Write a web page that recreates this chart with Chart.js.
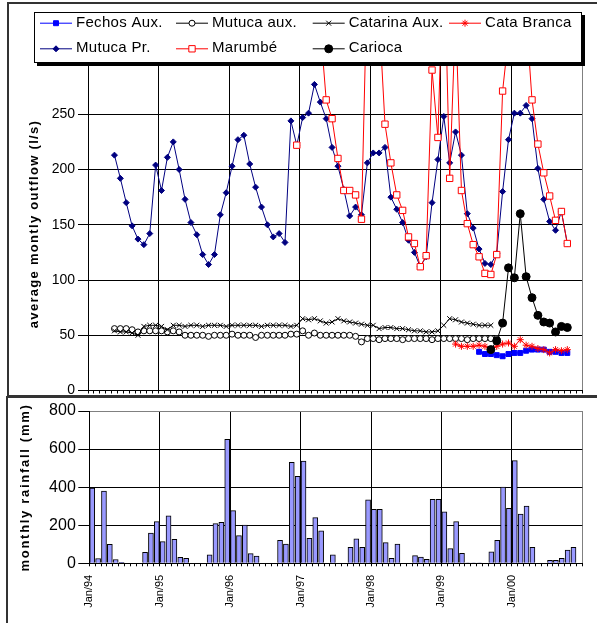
<!DOCTYPE html>
<html>
<head>
<meta charset="utf-8">
<script src="https://cdn.jsdelivr.net/npm/chart.js@4.4.1/dist/chart.umd.min.js"></script>
<style>
  html, body { margin: 0; padding: 0; background: #fff; }
  body { width: 597px; height: 623px; position: relative; overflow: hidden; }
  .frame { position: absolute; border: 2px solid #333; box-sizing: border-box; }
  #topFrame { left: 7px; top: 2px; width: 620px; height: 395px; }
  #bottomFrame { left: 6px; top: 396px; width: 620px; height: 260px; }
  canvas { position: absolute; }
  #outflow { left: 8px; top: 3px; }
  #rain { left: 8px; top: 398px; }
</style>
</head>
<body>
<div class="frame" id="topFrame"></div>
<div class="frame" id="bottomFrame"></div>
<canvas id="outflow" width="589" height="394"></canvas>
<canvas id="rain" width="589" height="225"></canvas>
<script>
const MONTHS = 84; // Jan/94 .. Dec/00
const yearLabels = ['Jan/94', 'Jan/95', 'Jan/96', 'Jan/97', 'Jan/98', 'Jan/99', 'Jan/00'];

// average monthly outflow (l/s); each series starts at a month index (0 = Jan/94)
const fechosStart = 66;
const fechosAux = [35, 33, 33, 32, 31, 33, 34, 34, 36, 37, 37, 37, 35, 35, 34, 34];

const mutucaAuxStart = 4;
const mutucaAux = [56, 56, 56, 55, 53, 54, 54, 54, 54, 53, 54, 53,
  50, 50, 50, 50, 49, 50, 50, 50, 51, 50, 50, 50, 48, 50, 50, 50, 50, 50, 51, 51,
  54, 50, 52, 50, 50, 50, 50, 50, 50, 49, 44,
  47, 47, 46, 47, 47, 47, 46, 47, 47, 47, 47, 46, 47, 47, 47, 47, 47, 46, 47, 47, 47, 47, 47];

const catarinaStart = 4;
const catarinaAux = [54, 53, 53, 52, 50, 58, 59, 59, 58, 55, 59,
  59, 58, 59, 59, 58, 59, 59, 59, 58, 59, 59, 59, 59, 59, 58, 59, 59, 59, 59, 58, 59,
  65, 64, 65, 63, 61, 62, 65, 63, 62, 61, 60, 59, 59,
  56, 57, 57, 56, 56, 55, 54, 54, 53, 53, 54,
  59, 65, 64, 62, 61, 60, 59, 59, 59];

const cataBrancaStart = 62;
const cataBranca = [42, 40, 40, 40, 41, 40, 37, 40, 42, 43, 40, 46, 41, 40, 38, 37, 34, 37, 36, 37];

const mutucaPrStart = 4;
const mutucaPr = [213, 192, 170, 149, 137, 132, 142, 204, 181, 211,
  225, 200, 173, 152, 141, 123, 114, 123, 159, 179,
  203, 227, 231, 205, 184, 166, 150, 139, 142, 134,
  244, 222, 247, 251, 277, 261, 246, 220, 203, 182,
  158, 166, 159, 206, 215, 215, 220, 175, 164, 152,
  136, 125, 112, 121, 170, 209, 248, 206, 234, 213,
  160, 147, 128, 115, 114, 124, 180, 227, 251, 251,
  258, 246, 201, 173, 153, 145, 162, 133];

const marumbeStart = 35;
const marumbe = [222, null, null, null, 330, 263, 246, 210, 181, 181,
  177, 155, 380, 400, 340, 241, 206, 177, 163, 139,
  133, 112, 122, 290, 229, 410, 192, 340, 181, 151,
  132, 121, 106, 105, 123, 271, 320, 400, 380, 340,
  263, 223, 197, 176, 154, 162, 133];

const cariocaStart = 68;
const carioca = [37, 45, 61, 111, 102, 160, 103, 84, 68, 62, 61, 53, 58, 57];

// monthly rainfall (mm), Jan/94 .. Dec/00
const rainfall = [395, 25, 380, 100, 20, 5, 0, 0, 0, 58, 159, 219,
  114, 250, 126, 32, 26, 0, 0, 0, 45, 208, 215, 651,
  277, 145, 201, 51, 38, 0, 0, 0, 121, 101, 530, 457,
  537, 131, 240, 170, 0, 45, 0, 0, 84, 128, 84, 333,
  284, 284, 109, 26, 101, 0, 0, 40, 33, 21, 336, 336,
  271, 77, 219, 52, 3, 3, 3, 0, 60, 121, 401, 289,
  539, 259, 301, 84, 0, 0, 16, 16, 26, 70, 84, 0];

function monthly(start, values) {
  const out = new Array(MONTHS).fill(null);
  values.forEach((v, i) => { out[start + i] = v; });
  return out;
}
const xy = arr => arr.map((v, i) => ({ x: i + 0.5, y: v }));

const FONT = '"Liberation Sans", Arial, sans-serif';

const sideTitle = {
  id: 'sideTitle',
  afterDraw(chart, args, o) {
    const ctx = chart.ctx;
    ctx.save();
    ctx.translate(o.x, o.y);
    ctx.rotate(-Math.PI / 2);
    ctx.font = `bold ${o.size}px ${FONT}`;
    if ('letterSpacing' in ctx) ctx.letterSpacing = o.spacing + 'px';
    ctx.fillStyle = '#000';
    ctx.textAlign = 'center';
    ctx.textBaseline = 'middle';
    ctx.fillText(o.text, 0, 0);
    ctx.restore();
  }
};

const boxLegend = {
  id: 'boxLegend',
  afterDraw(chart, args, o) {
    const ctx = chart.ctx;
    const b = o.box;
    ctx.save();
    ctx.fillStyle = '#000';
    ctx.fillRect(b.left + 3, b.top + 3, b.width, b.height);
    ctx.fillStyle = '#fff';
    ctx.fillRect(b.left, b.top, b.width, b.height);
    ctx.strokeStyle = '#000';
    ctx.lineWidth = 1;
    ctx.strokeRect(b.left + 0.5, b.top + 0.5, b.width - 1, b.height - 1);
    ctx.font = `${o.fontSize}px ${FONT}`;
    if ('letterSpacing' in ctx) ctx.letterSpacing = o.spacing + 'px';
    ctx.textBaseline = 'middle';
    ctx.textAlign = 'left';
    chart.data.datasets.forEach((ds, k) => {
      const x = o.cols[k % 4];
      const y = o.rows[k < 4 ? 0 : 1];
      ctx.strokeStyle = ds.borderColor;
      ctx.lineWidth = 1;
      ctx.beginPath();
      ctx.moveTo(x, y + 0.5);
      ctx.lineTo(x + o.lineLen, y + 0.5);
      ctx.stroke();
      ctx.fillStyle = ds.pointBackgroundColor || ds.borderColor;
      ctx.strokeStyle = ds.pointBorderColor || ds.borderColor;
      Chart.helpers.drawPoint(ctx, { pointStyle: ds.pointStyle, radius: ds.pointRadius, rotation: 0, borderWidth: 1 },
        x + o.lineLen / 2, y + 0.5);
      ctx.fillStyle = '#000';
      ctx.fillText(ds.label, x + o.lineLen + o.gap, y);
    });
    ctx.restore();
  }
};

const monthGrid = c => {
  const v = c.tick.value;
  if (v === MONTHS) return '#808080';
  return v % 12 === 0 ? '#000' : 'rgba(0,0,0,0)';
};

const lineSets = [
  { label: 'Fechos Aux.', data: xy(monthly(fechosStart, fechosAux)), borderColor: '#0000ff',
    pointStyle: 'rect', pointRadius: 3.5, pointBackgroundColor: '#0000ff', pointBorderColor: '#0000ff', order: 7 },
  { label: 'Mutuca aux.', data: xy(monthly(mutucaAuxStart, mutucaAux)), borderColor: '#000000',
    pointStyle: 'circle', pointRadius: 3, pointBackgroundColor: '#ffffff', pointBorderColor: '#000000', order: 6 },
  { label: 'Catarina Aux.', data: xy(monthly(catarinaStart, catarinaAux)), borderColor: '#000000',
    pointStyle: 'crossRot', pointRadius: 3.5, pointBackgroundColor: '#000000', pointBorderColor: '#000000', order: 5 },
  { label: 'Cata Branca', data: xy(monthly(cataBrancaStart, cataBranca)), borderColor: '#ff0000',
    pointStyle: 'star', pointRadius: 3.5, pointBackgroundColor: '#ff0000', pointBorderColor: '#ff0000', order: 4 },
  { label: 'Mutuca Pr.', data: xy(monthly(mutucaPrStart, mutucaPr)), borderColor: '#000080',
    pointStyle: 'rectRot', pointRadius: 3, pointBackgroundColor: '#000080', pointBorderColor: '#000080', order: 3 },
  { label: 'Marumbé', data: xy(monthly(marumbeStart, marumbe)), borderColor: '#ff0000',
    pointStyle: 'rect', pointRadius: 4.5, pointBackgroundColor: '#ffffff', pointBorderColor: '#ff0000', order: 2 },
  { label: 'Carioca', data: xy(monthly(cariocaStart, carioca)), borderColor: '#000000',
    pointStyle: 'circle', pointRadius: 4, pointBackgroundColor: '#000000', pointBorderColor: '#000000', order: 1 }
];
lineSets.forEach(ds => { ds.borderWidth = 1; ds.pointBorderWidth = 1; ds.spanGaps = false; });

new Chart(document.getElementById('outflow'), {
  type: 'line',
  data: { datasets: lineSets },
  options: {
    responsive: false,
    animation: false,
    events: [],
    layout: { padding: { top: 56, right: 15, left: 0, bottom: 0 } },
    plugins: {
      legend: { display: false },
      tooltip: { enabled: false },
      sideTitle: { text: 'average montly outflow (l/s)', x: 26.3, y: 221, size: 13, spacing: 1.3 },
      boxLegend: {
        box: { left: 26, top: 9, width: 548, height: 51 },
        rows: [19.7, 45.3],
        cols: [32, 168, 304.7, 441],
        lineLen: 32, gap: 4, fontSize: 15, spacing: 0.3
      }
    },
    scales: {
      x: {
        type: 'linear', min: 0, max: MONTHS, offset: false,
        ticks: { stepSize: 1, autoSkip: false, display: false },
        grid: { color: monthGrid, tickColor: '#000', tickLength: 3, lineWidth: 1 },
        border: { color: '#000' },
        afterFit: s => { s.height = 6.5; s.paddingLeft = 0; s.paddingRight = 0; }
      },
      y: {
        min: 0, max: 300,
        ticks: { stepSize: 50, padding: 3, color: '#000', font: { family: FONT, size: 14 },
          callback: v => (v < 300 ? v : '') },
        grid: { color: c => (c.tick.value === 300 ? '#808080' : '#000'), tickColor: '#000', tickLength: 10 },
        border: { color: '#000' },
        afterFit: s => { s.width = 80; s.paddingTop = 0; s.paddingBottom = 0; }
      }
    }
  },
  plugins: [sideTitle, boxLegend]
});

new Chart(document.getElementById('rain'), {
  type: 'bar',
  data: {
    datasets: [{
      label: 'monthly rainfall',
      data: xy(rainfall),
      backgroundColor: '#9999ff',
      borderColor: '#000000',
      borderWidth: 1,
      barThickness: 5
    }]
  },
  options: {
    responsive: false,
    animation: false,
    events: [],
    layout: { padding: { top: 13, right: 14.7, left: 0, bottom: 0 } },
    plugins: {
      legend: { display: false },
      tooltip: { enabled: false },
      sideTitle: { text: 'monthly rainfall (mm)', x: 17.7, y: 89.5, size: 13, spacing: 1.7 }
    },
    scales: {
      x: {
        type: 'linear', min: 0, max: MONTHS, offset: false,
        ticks: {
          stepSize: 1, autoSkip: false, minRotation: 90, maxRotation: 90, padding: 8.5,
          color: '#000', font: { family: FONT, size: 11 },
          callback: v => (v % 12 === 0 && v < MONTHS ? yearLabels[v / 12] : '')
        },
        grid: { color: monthGrid, tickColor: '#000', tickLength: 3, offset: false },
        border: { color: '#000' },
        afterFit: s => { s.height = 59.7; s.paddingLeft = 0; s.paddingRight = 0; }
      },
      y: {
        min: 0, max: 800,
        ticks: { stepSize: 200, padding: 2.5, color: '#000', font: { family: FONT, size: 16 } },
        grid: { color: c => (c.tick.value === 800 ? '#808080' : '#000'), tickColor: '#000', tickLength: 11 },
        border: { color: '#000' },
        afterFit: s => { s.width = 81.3; s.paddingTop = 0; s.paddingBottom = 0; }
      }
    }
  },
  plugins: [sideTitle]
});
</script>
</body>
</html>
